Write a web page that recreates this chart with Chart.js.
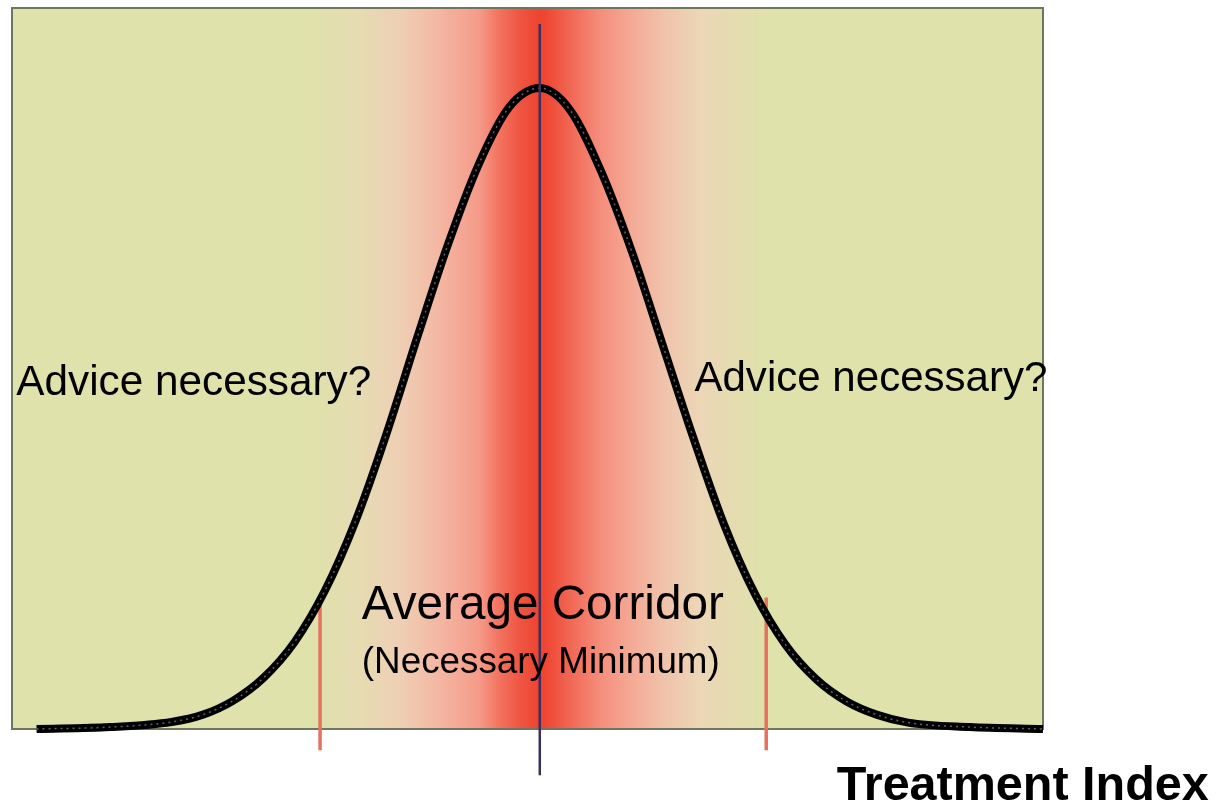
<!DOCTYPE html>
<html>
<head>
<meta charset="utf-8">
<title>Treatment Index</title>
<script src="https://cdn.jsdelivr.net/npm/chart.js@4"></script>
<style>
  html, body { margin: 0; padding: 0; background: #ffffff; }
  #wrap { width: 1224px; height: 805px; }
</style>
</head>
<body>
<div id="wrap"><canvas id="bellChart" width="1224" height="805"></canvas></div>
<script>
//---------------------------------------------------------
// Data (x in units of the curve spread, y = relative frequency)
const curveX = [-4.1, -3.5, -3.0, -2.75, -2.5, -2.25, -2.0, -1.75, -1.5, -1.25, -1.0, -0.75, -0.5, -0.25, 0,
                0.25, 0.5, 0.75, 1.0, 1.25, 1.5, 1.75, 2.0, 2.25, 2.5, 2.75, 3.0, 3.5, 4.1];
const curveY = [0.0, 0.003, 0.011, 0.022, 0.044, 0.08, 0.135, 0.216, 0.325, 0.46, 0.61, 0.755, 0.88, 0.97, 1.0,
                0.965, 0.87, 0.745, 0.6, 0.455, 0.32, 0.212, 0.132, 0.078, 0.043, 0.022, 0.010, 0.003, 0.0];

const meanX = 0;                 // navy centre line
const meanLineY = [1.1, -0.072]; // top / bottom of the centre line
const markerX = [-1.79, 1.845];  // red corridor limits
const markerTopY = [0.2, 0.205];
const markerBottomY = -0.033;

const xRange = [-4.3, 4.1];
const yRange = [0, 1.125];

// Text labels: [text, x, y] in data units
const labels = [
  ["Advice necessary?", -4.265, 0.521],
  ["Advice necessary?", 1.26, 0.527],
  ["Average Corridor", -1.45, 0.171],
  ["(Necessary Minimum)", -1.45, 0.087],
  ["Treatment Index", 2.42, -0.111]
];

//---------------------------------------------------------
// Styles
const bgGreen = "#dfe2ab";
const bandStops = [ // [x in data units, colour]
  [-4.3, bgGreen], [-1.87, bgGreen], [-1.46, "#e6dbb2"], [-1.14, "#eecfb4"], [-0.81, "#f4b6a2"],
  [-0.49, "#f59a88"], [-0.33, "#f2735f"], [-0.16, "#ef5542"], [-0.04, "#ee4733"], [0, "#ee4330"],
  [0.06, "#ef4834"], [0.22, "#f06350"], [0.49, "#f58d7b"], [0.76, "#f4ab96"], [1.03, "#f0c4ac"],
  [1.3, "#ecd6b6"], [1.57, "#e5dcb0"], [1.85, bgGreen], [4.1, bgGreen]
];
const textStyles = [ // font, target width in px
  ["42px 'Liberation Sans', Arial, sans-serif", 355],
  ["42px 'Liberation Sans', Arial, sans-serif", 353],
  ["48px 'Liberation Sans', Arial, sans-serif", 362],
  ["36px 'Liberation Sans', Arial, sans-serif", 358],
  ["bold 48px 'Liberation Sans', Arial, sans-serif", 372]
];

//---------------------------------------------------------
// Background band + frame + text plugin
const backdropPlugin = {
  id: "backdrop",
  beforeDatasetsDraw(chart) {
    const { ctx, chartArea: a, scales: { x } } = chart;
    const grad = ctx.createLinearGradient(a.left, 0, a.right, 0);
    const w = a.right - a.left;
    bandStops.forEach(([v, c]) => {
      const f = Math.min(1, Math.max(0, (x.getPixelForValue(v) - a.left) / w));
      grad.addColorStop(f, c);
    });
    ctx.save();
    ctx.fillStyle = grad;
    ctx.fillRect(a.left, a.top, w, a.bottom - a.top);
    ctx.strokeStyle = "#6f755e";
    ctx.lineWidth = 2;
    ctx.strokeRect(a.left, a.top, w, a.bottom - a.top);
    ctx.restore();
  },
  afterDraw(chart) {
    const { ctx, scales: { x, y } } = chart;
    ctx.save();
    ctx.fillStyle = "#000000";
    ctx.textBaseline = "alphabetic";
    ctx.textAlign = "left";
    labels.forEach(([t, lx, ly], i) => {
      const [font, targetW] = textStyles[i];
      ctx.font = font;
      const sx = targetW / ctx.measureText(t).width;
      ctx.save();
      ctx.translate(x.getPixelForValue(lx), y.getPixelForValue(ly));
      ctx.scale(sx, 1);
      ctx.fillText(t, 0, 0);
      ctx.restore();
    });
    ctx.restore();
  }
};

//---------------------------------------------------------
// Build chart
const curvePts = curveX.map((v, i) => ({ x: v, y: curveY[i] }));
const markerSets = markerX.map((mx, i) => ({
  data: [{ x: mx, y: markerTopY[i] }, { x: mx, y: markerBottomY }],
  borderColor: "#e8705e",
  borderWidth: 3.5,
  pointRadius: 0,
  showLine: true,
  clip: false
}));

new Chart(document.getElementById("bellChart"), {
  type: "scatter",
  data: {
    datasets: [
      { // centre line (on top)
        data: [{ x: meanX, y: meanLineY[0] }, { x: meanX, y: meanLineY[1] }],
        borderColor: "#3b2f5e",
        borderWidth: 2.5,
        pointRadius: 0,
        showLine: true,
        clip: false
      },
      { // dotted texture along the curve
        data: curvePts,
        borderColor: "rgba(140,140,140,0.7)",
        borderWidth: 1.5,
        borderDash: [2, 4],
        pointRadius: 0,
        showLine: true,
        cubicInterpolationMode: "monotone",
        clip: false
      },
      { // bell curve
        data: curvePts,
        borderColor: "#000000",
        borderWidth: 8,
        borderCapStyle: "butt",
        pointRadius: 0,
        showLine: true,
        cubicInterpolationMode: "monotone",
        clip: false
      },
      ...markerSets
    ]
  },
  options: {
    responsive: false,
    animation: false,
    layout: { padding: { left: 12, right: 181, top: 8, bottom: 76 } },
    scales: {
      x: { type: "linear", min: xRange[0], max: xRange[1], display: false },
      y: { type: "linear", min: yRange[0], max: yRange[1], display: false }
    },
    plugins: { legend: { display: false }, tooltip: { enabled: false } }
  },
  plugins: [backdropPlugin]
});
</script>
</body>
</html>
